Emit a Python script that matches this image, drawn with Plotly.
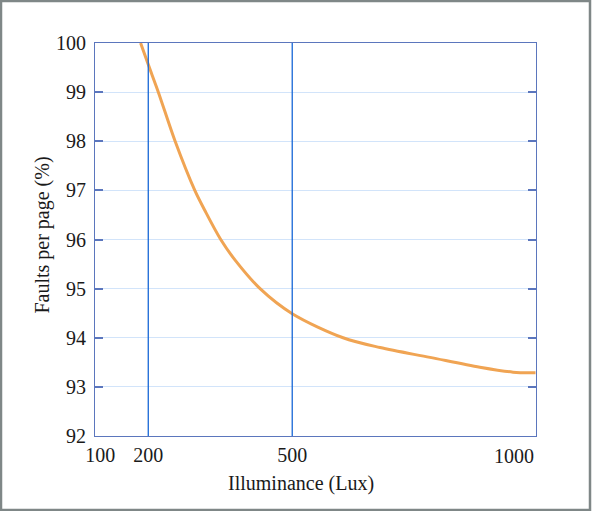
import plotly.graph_objects as go

# curve
lux = [184, 200, 221, 256, 297, 318, 351, 381, 433, 500, 606, 683, 787, 891, 960, 1007]
faults = [100, 99.56, 99.0, 98.0, 97.0, 96.59, 96.0, 95.58, 95.0, 94.49, 94.0, 93.8, 93.6, 93.4, 93.3, 93.29]

reference_lux = [200, 500]
x_ticks = [100, 200, 500]
y_ticks = [92, 93, 94, 95, 96, 97, 98, 99, 100]

FONT = "Liberation Serif"
TEXT_COLOR = "#1a1a1a"
AXIS_COLOR = "#5b76bd"

fig = go.Figure()

fig.add_trace(go.Scatter(
    x=lux, y=faults,
    mode="lines",
    line=dict(color="#f0a453", width=3, shape="spline", smoothing=0.9),
    showlegend=False,
    hoverinfo="skip",
))

for v in reference_lux:
    fig.add_vline(x=v, line=dict(color="#1767d6", width=1.3))

fig.update_xaxes(
    range=[89, 1008],
    tickvals=x_ticks,
    ticktext=[str(t) for t in x_ticks],
    showgrid=False, zeroline=False,
    showline=True, linecolor=AXIS_COLOR, linewidth=1, mirror=True,
    ticks="", ticklabelstandoff=1,
    tickfont=dict(family=FONT, size=20, color=TEXT_COLOR),
    automargin=False,
)
fig.update_yaxes(
    range=[92, 100],
    tickvals=y_ticks,
    showgrid=True, gridcolor="#d2e4fa", gridwidth=1.3,
    zeroline=False,
    showline=True, linecolor=AXIS_COLOR, linewidth=1, mirror="ticks",
    ticks="inside", ticklen=8, tickcolor=AXIS_COLOR, tickwidth=1.5,
    ticklabelstandoff=4,
    tickfont=dict(family=FONT, size=20, color=TEXT_COLOR),
    automargin=False,
)

fig.add_annotation(
    text="1000", x=1008, y=0, xref="x", yref="paper",
    xanchor="right", yanchor="top", yshift=-7, showarrow=False,
    font=dict(family=FONT, size=20, color=TEXT_COLOR),
)
fig.add_annotation(
    text="Illuminance (Lux)", x=(301 - 95) / 441, y=0, xref="paper", yref="paper",
    xanchor="center", yanchor="middle", yshift=-47,
    showarrow=False, font=dict(family=FONT, size=20, color=TEXT_COLOR),
)
fig.add_annotation(
    text="Faults per page (%)", x=0, y=0.51, xref="paper", yref="paper",
    xanchor="center", yanchor="middle", xshift=-52, textangle=-90,
    showarrow=False, font=dict(family=FONT, size=20, color=TEXT_COLOR),
)

# outer frame
fig.add_shape(type="rect", xref="paper", yref="paper",
              x0=-94 / 441, x1=1 + 54 / 441, y0=-74 / 392.4, y1=1 + 42 / 392.4,
              line=dict(color="#7f8787", width=2.5), layer="above")

fig.update_layout(
    width=592, height=511,
    margin=dict(l=95, r=56, t=43, b=75, pad=0),
    paper_bgcolor="white", plot_bgcolor="white",
    font=dict(family=FONT, size=20, color=TEXT_COLOR),
)

fig.write_html("out.html", config={"displayModeBar": False},
               post_script="document.body.style.margin='0';")
